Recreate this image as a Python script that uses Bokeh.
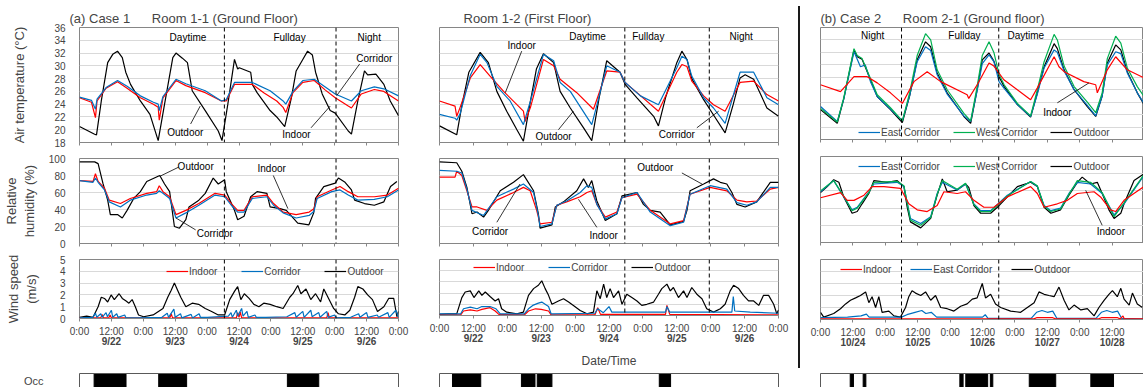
from bokeh.plotting import figure
from bokeh.layouts import row, column
from bokeh.models import (Range1d, LinearAxis, FixedTicker, SingleIntervalTicker, Grid,
                          Span, Legend, LegendItem, Spacer)
from bokeh.core.properties import value
from bokeh.embed import file_html
from bokeh.resources import INLINE

FONT = "Liberation Sans"
RED, BLUE, GREEN, BLACK = "#ff0000", "#0070c0", "#00b050", "#000000"
FRAME = "#868686"

# ---------------- data (time in hours from start, value) ----------------
TIME_TICKS = list(range(0, 121, 12))
TIME_LABELS = ["0:00" if h % 24 == 0 else "12:00" for h in TIME_TICKS]
DATE_TICKS = [12, 36, 60, 84, 108]
DATES_1 = ["9/22", "9/23", "9/24", "9/25", "9/26"]
DATES_2 = ["10/24", "10/25", "10/26", "10/27", "10/28"]

# Case 1, Room 1-1: air temperature
A_T_OUT = [(0,20.5),(5.7,19.3),(6.4,19.2),(8.2,24.5),(10.6,30.5),(12.5,31.8),(14.3,32.3),(16.1,31.3),(17.4,29),(19.2,27.1),(22.9,24.5),(26.5,22.4),(29.6,18.3),(32,24),(35.1,31.3),(36.3,32),(38.7,31.2),(40.6,30.5),(42.4,26.1),(47.3,23),(52.2,19.8),(53.6,18.3),(55.8,24),(58.3,31),(59.5,29.5),(60.1,29.7),(63.2,29.2),(64.4,29),(65,27.1),(66.8,25.8),(71.7,23),(74.2,22),(77.2,20.5),(79.7,25),(81.5,29.2),(84,31),(85.8,32.3),(87.6,31.7),(88.8,29),(91.3,25.6),(94.3,23),(96.2,22.6),(101.1,19.8),(102.3,19.3),(104.7,24.5),(107.2,29.2),(108.4,28.6),(111.5,28.7),(114.5,27.1),(116.9,24.5),(120,22.2)]
A_T_IN = [(0,25.0),(4.5,24.3),(6.0,21.9),(6.6,24.5),(10,26.5),(14.3,27.5),(17.9,26.5),(22.9,25),(27.8,24),(29.6,23.5),(30.0,21.5),(31.4,25),(36.3,27.7),(40,26.9),(47.3,25.8),(53.4,24.5),(55.2,24.5),(58.3,27.1),(61.9,27.1),(65,27.1),(69.3,25.8),(74.2,24.5),(76.6,23.5),(77.6,22.7),(80.3,25.8),(84,27.4),(88.3,27.7),(92.5,26.2),(96.2,25),(101.1,23.7),(102.3,23.4),(106,25.6),(110.9,26.3),(114.5,26),(120,24.5)]
A_T_COR = [(0,25.1),(4.5,24.6),(6.0,23.2),(6.6,24.8),(10,26.6),(14.3,27.7),(17.9,26.8),(22.9,25.3),(27.8,24.3),(29.6,24),(30.0,23),(31.4,25.2),(36.3,27.9),(40,27.2),(47.3,26.1),(53.4,24.5),(55.2,24.7),(58.3,27.4),(65,27.4),(71.7,26.1),(76.6,24.5),(77.6,24),(80.3,26),(84,27.7),(88.3,27.9),(96.2,25.6),(102.3,24.5),(106,26.1),(110.9,26.7),(114.5,26.4),(120,25.3)]
# Case 1, Room 1-1: relative humidity
A_H_OUT = [(0,96),(5.7,96),(7,94),(8.8,71),(10.6,51),(11.6,34),(14.3,34),(16.1,30),(17.9,39),(20.4,53),(22.9,61),(25.3,73),(30.2,80),(32,70),(33.9,61),(35.7,20),(37.6,18),(40,28),(41.2,43),(44.9,51),(47.3,59),(50.3,77),(52.2,70),(54.6,75),(55.2,61),(58.3,39),(59.5,28),(61.9,32),(64.4,55),(66.8,61),(70.5,59),(71.7,43),(75.4,41),(77.8,39),(82.1,24),(86.3,22),(88.1,36),(88.8,53),(91.9,67),(96.2,71),(97.4,77),(99.9,72),(102.3,63),(103.5,51),(107.2,47),(110.9,45),(114.5,49),(117,67),(119.4,73)]
A_H_IN = [(0,74),(5.1,73),(6.0,82),(7,73),(9.4,65),(11.2,51),(15.4,47),(19.1,53),(25.3,59),(29,61),(30,68),(31.4,61),(33.9,55),(36.3,34),(40,39),(44.9,47),(51,59),(54.6,57),(57.1,47),(59.5,39),(61.9,39),(65,55),(70.5,57),(73,47),(76.6,37),(81.5,34),(86.4,37),(88.2,41),(89.4,55),(94.9,63),(98,67),(101.1,61),(104.7,55),(110.9,55),(115.8,57),(120,65)]
A_H_COR = [(0,74),(5.1,72),(6.0,77),(7,72),(9.4,63),(11.2,49),(15.4,43),(19.1,51),(25.3,57),(29,59),(30,62),(31.4,59),(33.9,53),(36.3,30),(40,36),(44.9,45),(51,57),(54.6,55),(57.1,45),(59.5,37),(61.9,37),(65,53),(70.5,55),(73,45),(76.6,36),(81.5,30),(86.4,33),(88.2,38),(89.4,53),(94.9,61),(98,63),(101.1,57),(104.7,51),(110.9,52),(115.8,55),(120,63)]
# Case 1, Room 1-1: wind speed
A_W_OUT = [(0,0.1),(2.7,0.2),(5.1,0.1),(7,1.0),(8.2,1.8),(9.4,1.7),(10.6,1.4),(11.9,2.0),(13.1,1.6),(14.9,2.1),(16.1,1.7),(17.4,1.5),(18.6,1.3),(19.8,1.6),(21,1.0),(22.2,0.3),(24.1,0.15),(27.7,0.3),(31.4,0.85),(33.2,1.8),(34.5,2.4),(35.7,3.0),(36.9,2.4),(38.1,1.8),(40,1.0),(42.4,1.3),(44.8,1.2),(47.3,0.85),(49.7,0.6),(52.2,0.3),(54.6,0.3),(56.5,1.6),(58.3,2.3),(59.5,2.7),(60.7,1.6),(62,2.1),(63.8,1.7),(65.6,1.2),(67.5,1.0),(69.3,1.3),(71.7,1.2),(74.2,1.0),(76.6,0.85),(79.1,1.8),(80.3,2.1),(82.1,2.8),(83.3,2.1),(85.2,2.5),(87,1.6),(88.8,2.1),(90.7,1.4),(91.9,2.5),(93.7,1.7),(95.6,0.85),(97.4,0.4),(99.8,0.3),(101.7,0.7),(103.5,1.8),(104.7,2.7),(106.6,2.5),(108.4,2.0),(110.2,1.6),(112.1,0.6),(114.5,1.0),(116.3,1.7),(118.2,1.7),(119.4,0.15),(120,0.6)]
A_W_IN = [(0,0.05),(8,0.05),(8.5,0.35),(9,0.05),(11,0.05),(11.5,0.3),(12,0.05),(34,0.05),(34.5,0.4),(35,0.05),(59,0.05),(59.5,0.5),(60,0.1),(60.5,0.55),(61,0.05),(93,0.05),(93.5,0.5),(94,0.05),(120,0.05)]
A_W_COR = [(0,0.05),(5,0.1),(6,0.45),(6.5,0.1),(8,0.4),(8.5,0.1),(10,0.5),(10.5,0.15),(12,0.7),(12.5,0.1),(14,0.4),(14.5,0.1),(17,0.3),(17.5,0.05),(22,0.05),(31,0.1),(33,0.45),(33.5,0.1),(35.5,0.8),(36,0.1),(38,0.4),(38.5,0.05),(42,0.35),(42.5,0.05),(45,0.4),(45.5,0.1),(48,0.1),(56,0.2),(57,0.5),(57.5,0.1),(59,0.7),(59.5,0.2),(61,0.85),(61.5,0.2),(63,0.6),(63.5,0.1),(66,0.3),(66.5,0.1),(70,0.1),(78,0.15),(81,0.5),(81.5,0.1),(84,0.6),(84.5,0.1),(87,0.7),(87.5,0.15),(90,0.5),(90.5,0.1),(93,0.6),(93.5,0.1),(96,0.3),(96.5,0.05),(102,0.1),(105,0.4),(105.5,0.1),(108,0.5),(108.5,0.1),(112,0.3),(112.5,0.1),(116,0.5),(116.5,0.1),(119,0.7),(120,0.1)]
A_OCC_START = [5.5, 29.8, 78.2]
A_OCC_END = [17.5, 40.3, 90.0]

# Case 1, Room 1-2
B_T_OUT = [(0,20.6),(6.1,19.2),(8,24),(10.4,29),(14.4,32.1),(17.3,30.5),(20.3,26),(23.8,22.9),(27.4,20),(29.7,18.2),(32,24),(34.3,29.5),(36.8,31.9),(40.4,30.5),(42.7,26),(46.3,23.4),(51,20.3),(53.9,18.3),(56.5,25),(59.2,30.8),(63.9,29),(65.7,27.1),(69.9,25),(75.8,22.1),(77.5,20.6),(80,25),(84,30.5),(85.8,32.3),(87.6,31),(89.3,28),(93.5,24.7),(97,22.3),(101.1,19.5),(104,24),(106.4,28.1),(108.2,28.6),(111.2,27.9),(115.9,23.4),(120,22.1)]
B_T_IN = [(0,24.5),(5.5,23.7),(6.1,22.1),(7.3,23.5),(10.9,28.1),(14.4,30.2),(17.9,28.4),(22.7,26),(29.7,22.9),(30.3,21.3),(32.2,23.5),(36.8,31),(40.4,30),(42.7,27.9),(48.6,25.8),(54.5,23.2),(59.2,29.2),(63.9,29),(65.7,27.4),(69.9,25.8),(77.5,22.9),(84,29),(85.8,30.2),(87.6,29.9),(89.3,27.6),(93.5,25.3),(97,23.9),(101.1,22.9),(106.4,27.4),(111.2,27.6),(115.9,25.5),(120,24.5)]
B_T_COR = [(0,22.4),(5.5,21.8),(6.1,21.5),(7.3,22.5),(10.9,28.5),(14.4,31.8),(16.8,30.5),(20.3,26.8),(25,24.5),(29.7,20.8),(32.2,24.5),(36.8,31.8),(40.4,30.8),(42.7,27.4),(46.3,26),(53.9,20.8),(55.5,23.5),(59.2,30),(63.9,29),(65.7,27.4),(71.1,25.3),(77.5,23.9),(84,29.7),(85.8,31.5),(87.6,31),(89.3,28.4),(93.5,25),(97,23.4),(101.1,21),(106.4,29),(111.2,29),(115.9,25),(120,23.9)]
B_H_OUT = [(0,96),(6.1,95),(7.9,85),(9.7,66),(11.5,35),(13.3,37),(15.6,31),(17.3,39),(21.5,62),(26.2,72),(29.7,81),(33.3,62),(35,35),(35.6,18),(39.8,22),(41,43),(43.9,49),(48.6,62),(51,76),(52.7,66),(53.9,74),(55.7,50),(58.7,27),(62.8,35),(64.6,56),(69.9,60),(72.2,46),(74.6,39),(78.1,37),(81.7,22),(86.4,26),(87.6,39),(88.7,62),(93.5,70),(97,76),(99.4,72),(101.7,70),(103.5,60),(105.3,46),(108.2,43),(112.3,49),(117.1,72),(120,72)]
B_H_IN = [(0,78),(5.5,78),(6.1,85),(7.9,80),(9.7,62),(11.5,43),(13.3,43),(16.8,39),(20.3,51),(26.2,60),(29.7,66),(32.1,62),(34.4,39),(35.6,23),(39.8,25),(41.5,45),(45,49),(49.8,55),(52.2,60),(53.9,62),(55.7,46),(58.7,31),(62.8,37),(64.6,54),(69.9,58),(74.6,39),(81.7,23),(86.4,27),(88.7,58),(95.8,66),(101.7,62),(105.3,51),(108.8,49),(112.3,50),(117.1,64),(120,66)]
B_H_COR = [(0,86),(6.1,85),(7.9,83),(9.7,64),(11.5,39),(15.6,33),(20.3,55),(26.2,64),(29.7,70),(33.3,60),(35,33),(35.6,20),(39.8,23),(41.5,45),(45,50),(49.8,60),(52.2,68),(53.9,66),(55.7,46),(58.7,29),(62.8,35),(64.6,54),(69.9,60),(74.6,37),(81.7,21),(86.4,25),(88.7,58),(95.8,68),(101.7,64),(105.3,48),(108.8,45),(112.3,49),(117.1,66),(120,66)]
B_W_OUT = [(0,0.1),(3,0.15),(6.1,0.15),(7.9,1.6),(9.1,2.1),(10.9,2.2),(12.2,1.6),(13.9,2.2),(15,1.8),(16.2,2.1),(17.9,1.7),(19.7,1.3),(20.9,1.5),(22,0.6),(23.8,0.3),(27.4,0.15),(29.7,0.3),(31.5,1.8),(33.3,2.4),(35,2.7),(36.2,3.1),(37.4,2.4),(38.6,1.8),(39.8,1.0),(42.1,1.3),(43.9,1.5),(45.7,1.2),(47.4,0.9),(49.8,0.45),(52.2,0.15),(54.5,0.3),(55.7,2.2),(56.9,1.5),(58.1,2.8),(59.2,1.6),(60.4,2.4),(61.6,1.6),(63.4,2.2),(64.6,1.0),(66.3,1.9),(68.1,1.6),(69.9,1.3),(71.6,0.9),(73.4,1.0),(75.8,1.2),(77.5,1.9),(78.7,2.4),(80.5,2.8),(81.7,2.2),(82.8,2.5),(84.6,1.6),(86.4,2.2),(87.6,1.6),(89.3,2.5),(91.1,1.9),(92.9,1.5),(94.6,0.6),(97,0.3),(99.4,0.6),(101.1,1.0),(102.9,2.2),(104.1,2.7),(105.9,2.4),(107.6,1.8),(109.4,1.3),(111.2,1.3),(113,0.9),(114.7,1.8),(116.5,1.8),(118.3,1.0),(119.4,0.15),(120,0.5)]
B_W_IN = [(0,0.05),(7.5,0.05),(8.5,0.4),(10.9,0.5),(13.3,0.4),(15,0.55),(17.9,0.7),(19.7,0.4),(21,0.1),(30,0.05),(31.5,0.4),(34,0.6),(36,0.55),(38.6,0.4),(39.5,0.05),(55,0.05),(56,0.7),(57,0.1),(80,0.1),(80.5,0.9),(81.5,0.1),(120,0.05)]
B_W_COR = [(0,0.15),(7.5,0.15),(8.5,0.6),(10.9,0.75),(13.3,0.6),(15,0.8),(17.9,0.8),(20,0.6),(21.5,0.15),(30,0.15),(31.5,0.6),(33,0.9),(35,1.1),(36.2,1.2),(38.6,0.8),(39.5,0.15),(55,0.2),(56,0.6),(58,0.25),(60,0.8),(61,0.3),(70,0.3),(80,0.3),(80.5,0.8),(81.5,0.3),(95,0.3),(103.5,0.3),(104,1.7),(104.5,0.4),(110,0.3),(120,0.2)]
B_OCC_START = [4.6, 29.0, 34.6, 77.8]
B_OCC_END = [14.6, 33.8, 39.8, 81.8]

# Case 2, Room 2-1
C_T_OUT = [(0,22.8),(6.2,20.6),(8.6,24.5),(12.4,32.4),(13.6,31.3),(15.4,30.9),(18.5,27.6),(21,24.9),(25.9,22.8),(30.3,20.7),(33,25),(35.8,30.8),(38.9,33.7),(40.8,32.9),(43.2,28.7),(46.9,25.5),(53.1,21.7),(55.6,20.6),(58,26),(59.9,30.8),(62.4,31.9),(64.2,30.6),(66.1,28.1),(68,26.5),(72.9,23.6),(77.8,21.6),(80.3,25.5),(82.8,29.7),(86.5,33.4),(87.7,32.6),(90.2,29.2),(93.9,26),(98.8,23.3),(101.9,21.7),(104.3,25),(106.2,30.3),(109.3,33.2),(111.2,32.4),(113.6,28.9),(117.3,25.5),(119.8,23.6)]
C_T_WEST = [(0,23.0),(6.2,20.8),(8.6,24.7),(12.4,32.6),(13.6,31.5),(15.4,31.0),(18.5,27.8),(21,25.2),(25.9,23.1),(30.3,21.0),(33,25.5),(35.8,31.5),(38.9,35.0),(40.8,34),(43.2,29.2),(46.9,26),(53.1,22.2),(55.6,21.0),(58,26.5),(59.9,31.5),(62.4,33.7),(64.2,32.0),(66.1,28.5),(68,26.8),(72.9,23.8),(77.8,21.8),(80.3,26),(82.8,30.5),(86.5,34.9),(87.7,34),(90.2,29.8),(93.9,26.5),(98.8,24),(101.9,22.3),(104.3,25.5),(106.2,31),(109.3,34.6),(111.2,33.5),(113.6,29.5),(117.3,26.5),(119.8,24.9)]
C_T_EAST = [(0,23.3),(6.2,20.9),(8.6,24.5),(12.4,32.1),(14.8,29.7),(16.6,30),(18.5,27.3),(21,24.9),(25.9,22.9),(30.3,21.0),(33,25),(35.8,30.5),(38.9,32.9),(40.8,32.3),(43.2,28.4),(46.9,25.3),(53.1,21.8),(55.6,20.9),(58,25.8),(59.9,30.2),(62.4,31.6),(64.2,30.5),(66.1,27.3),(68,26.2),(72.9,23.6),(77.8,21.7),(80.3,25.3),(82.8,29.5),(86.5,32.4),(87.7,32),(90.2,29),(93.9,26),(98.8,23.5),(101.9,21.8),(104.3,25),(106.2,30),(109.3,32.1),(111.2,31.8),(113.6,28.7),(117.3,25.5),(119.8,23.8)]
C_T_IN = [(0,26.8),(7.4,25.7),(12.4,28.1),(17.3,28.1),(21,27.1),(25.9,25.5),(30.3,23.8),(34.6,27.3),(39.5,28.9),(44.5,27.3),(54.3,25.2),(54.9,24.6),(58.3,27),(62.4,30.3),(64.2,29.8),(67.9,27.6),(77.8,24.4),(80.3,26.3),(86.5,31.3),(88.3,29.7),(90.2,28.9),(97.5,27.3),(101.9,26.8),(102.5,25.5),(106.2,29.2),(109.3,31.3),(113.6,29.2),(119.8,27.9)]
C_H_OUT = [(0,58),(2.5,65),(4.9,73),(6.8,70),(8.6,53),(11.7,34),(13.6,36),(15.4,45),(17.9,57),(19.8,72),(24.7,70),(28.4,72),(30.9,65),(32.1,41),(33.3,24),(37.1,17),(40.8,28),(43.2,55),(45.1,74),(46.9,59),(50.6,61),(53.7,68),(54.9,64),(56.8,43),(59.3,34),(63,34),(65.5,41),(69.2,53),(72.9,65),(77.8,70),(80.3,65),(82.8,41),(85.3,34),(88.9,38),(92,55),(95.1,70),(96.9,76),(100,68),(102.5,70),(104.3,57),(106.8,38),(108.7,28),(111.2,34),(112.4,45),(116.1,72),(119.8,80)]
C_H_EAST = [(0,59),(4.9,72),(8.6,53),(11.7,38),(13.6,41),(17.9,59),(19.8,68),(28.4,70),(30.9,65),(33.3,28),(37.1,22),(40.8,30),(43.2,57),(45.1,70),(50.6,61),(53.7,68),(56.8,45),(59.3,37),(63,37),(69.2,55),(77.8,71),(80.3,65),(82.8,43),(85.3,37),(88.9,40),(92,57),(95.1,70),(100,68),(104.3,57),(108.7,32),(112.4,45),(119.8,78)]
C_H_WEST = [(0,60),(4.9,72),(8.6,54),(11.7,37),(13.6,40),(17.9,58),(19.8,70),(28.4,71),(30.9,66),(33.3,26),(37.1,20),(40.8,29),(43.2,56),(45.1,72),(50.6,62),(53.7,69),(56.8,44),(59.3,36),(63,36),(69.2,54),(77.8,71),(80.3,66),(82.8,42),(85.3,36),(88.9,39),(92,56),(95.1,72),(100,70),(104.3,58),(108.7,30),(112.4,46),(119.8,79)]
C_H_IN = [(0,52),(7.4,58),(9.9,49),(12.4,49),(16.1,55),(19.1,65),(23.5,65),(29.6,63),(32.7,45),(35.8,38),(39.5,36),(43.2,43),(45.7,59),(50.6,57),(53.7,59),(56.8,49),(60.5,41),(64.2,41),(69.2,53),(77.8,65),(80.3,57),(82.8,41),(87.7,45),(91.4,49),(95.1,57),(101.3,59),(103.7,53),(107.4,38),(109.3,36),(112.4,49),(119.8,65)]
C_W_OUT = [(0,0.6),(1.2,0.2),(4.9,0.5),(7.4,0.9),(9.3,1.3),(11.1,1.6),(13,1.8),(14.8,2.0),(16.7,2.3),(17.9,1.4),(19.1,1.9),(20.4,1.0),(21.6,1.9),(22.8,0.6),(25.3,0.7),(27.2,0.3),(29.6,0.2),(31.5,1.0),(32.7,1.9),(33.9,2.4),(35.2,2.2),(37.1,2.0),(38.9,2.3),(40.8,1.6),(42.6,2.0),(44.5,1.0),(46.9,0.9),(49.4,0.7),(51.9,1.1),(54.3,1.3),(56.2,1.7),(58,1.8),(59.9,3.0),(61.1,1.8),(63,2.1),(64.8,1.3),(66.7,1.0),(70.4,0.7),(74.1,0.6),(76.6,1.0),(79.1,1.4),(80.9,2.3),(82.8,2.1),(84.6,2.0),(86.5,1.9),(88.3,2.7),(90.2,1.6),(92,0.8),(93.9,1.2),(96.4,0.8),(98.8,0.9),(101.3,0.3),(103.1,1.0),(105,1.6),(106.8,2.1),(108.1,2.4),(109.9,1.9),(111.2,2.6),(112.4,1.7),(114.3,1.2),(115.5,2.2),(117.3,1.3),(119.2,1.0)]
C_W_EAST = [(0,0.15),(10,0.2),(15,0.3),(17,0.45),(18,0.2),(30,0.2),(32,0.4),(35,0.6),(37.5,0.75),(39,0.5),(41,0.6),(43,0.2),(60,0.2),(61,0.4),(62,0.1),(78,0.1),(80,0.6),(82,0.75),(84,0.6),(86,0.7),(87.5,0.1),(102,0.1),(104,0.6),(106,0.75),(108,0.6),(110,0.7),(111.5,0.1),(119.6,0.05)]
C_W_IN = [(0,0.05),(79,0.05),(80,0.15),(86,0.15),(87,0.05),(103,0.05),(104,0.15),(110,0.15),(111,0.05),(112,0.3),(112.5,0.05),(119.6,0.05)]
C_OCC_START = [11.0, 15.8, 51.6, 53.8, 62.9, 77.3, 100.1]
C_OCC_END = [12.2, 16.8, 52.8, 61.9, 63.8, 87.1, 108.5]


# ---------------- helpers ----------------
def mk(w, h, bl, br, bt, bb, xend, yr, yint, title=None, toff=0):
    p = figure(width=w, height=h, x_range=Range1d(0, xend), y_range=Range1d(yr[0], yr[1]),
               x_axis_type=None, y_axis_type=None, toolbar_location=None, output_backend="svg",
               min_border_left=bl, min_border_right=br, min_border_top=bt, min_border_bottom=bb,
               title=title)
    p.outline_line_color = FRAME
    p.outline_line_width = 1
    p.background_fill_color = "white"
    p.border_fill_color = "white"
    if title:
        p.title.text_font = FONT
        p.title.text_font_size = "13px"
        p.title.text_font_style = "normal"
        p.title.align = "left"
        p.title.offset = toff
        p.title.standoff = 4
    p.add_layout(Grid(dimension=1, ticker=SingleIntervalTicker(interval=yint),
                      grid_line_color="#d9d9d9", grid_line_width=1))
    return p


def time_axis(p, labels=False):
    ax = LinearAxis(ticker=FixedTicker(ticks=TIME_TICKS), axis_line_color=FRAME,
                    major_tick_line_color=FRAME, major_tick_in=0, major_tick_out=3,
                    minor_tick_line_color=None)
    if labels:
        ax.major_label_overrides = {t: l for t, l in zip(TIME_TICKS, TIME_LABELS)}
        ax.major_label_text_font = FONT
        ax.major_label_text_font_size = "10px"
        ax.major_label_standoff = 4
    else:
        ax.major_label_text_font_size = "0px"
        ax.major_label_text_color = None
        ax.major_label_standoff = 0
    p.add_layout(ax, "below")


def date_axis(p, dates, label=None):
    ax = LinearAxis(ticker=FixedTicker(ticks=DATE_TICKS),
                    major_label_overrides={t: d for t, d in zip(DATE_TICKS, dates)},
                    axis_line_color=None, major_tick_line_color=None, minor_tick_line_color=None,
                    major_tick_in=0, major_tick_out=0, major_label_standoff=-4,
                    major_label_text_font=FONT, major_label_text_font_size="10px",
                    major_label_text_font_style="bold")
    if label:
        ax.axis_label = label
        ax.axis_label_text_font = FONT
        ax.axis_label_text_font_size = "12px"
        ax.axis_label_text_font_style = "normal"
        ax.axis_label_standoff = 7
    p.add_layout(ax, "below")


def y_axis(p, interval, label, standoff):
    ax = LinearAxis(ticker=SingleIntervalTicker(interval=interval), axis_line_color=None,
                    major_tick_line_color=None, minor_tick_line_color=None,
                    major_tick_in=0, major_tick_out=0, major_label_standoff=10,
                    major_label_text_font=FONT, major_label_text_font_size="10px",
                    axis_label=label, axis_label_text_font=FONT, axis_label_text_font_size="13px",
                    axis_label_text_font_style="normal", axis_label_standoff=standoff)
    p.add_layout(ax, "left")


def draw(p, data, color, width=1.2):
    t = [d[0] for d in data]
    v = [d[1] for d in data]
    return p.line(t, v, line_color=color, line_width=width)


def dashes(p, locs):
    for h in locs:
        p.add_layout(Span(location=h, dimension="height", line_color="black",
                          line_dash="4 3", line_width=1))


def texts(p, xs, ys, labels, size="10px"):
    p.text(x=xs, y=ys, text=labels, text_font=value(FONT), text_font_size=value(size),
           text_align="center", text_baseline="middle", text_color="black")


def leaders(p, segs):
    p.segment(x0=[s[0] for s in segs], y0=[s[1] for s in segs],
              x1=[s[2] for s in segs], y1=[s[3] for s in segs],
              line_color="black", line_width=0.8)


def legend(p, items, x, y, spacing):
    lg = Legend(items=[LegendItem(label=value(l), renderers=[r]) for l, r in items],
                orientation="horizontal", location=(x, y), background_fill_alpha=0,
                border_line_color=None, glyph_width=22, glyph_height=12, label_height=12,
                label_standoff=1, spacing=spacing, padding=0, margin=0,
                label_text_font=FONT, label_text_font_size="10px")
    p.add_layout(lg)


def occ_fig(w, bl, br, xend, starts, ends, label=None):
    p = figure(width=w, height=17, x_range=Range1d(0, xend), y_range=Range1d(0, 1),
               x_axis_type=None, y_axis_type=None, toolbar_location=None, output_backend="svg",
               min_border_left=bl, min_border_right=br, min_border_top=3, min_border_bottom=0)
    p.outline_line_color = None
    p.background_fill_color = "white"
    p.border_fill_color = "white"
    p.quad(left=starts, right=ends, bottom=0, top=1, fill_color="black", line_color="black")
    for side in ("left", "right", "above"):
        ax = LinearAxis(ticker=FixedTicker(ticks=[]), axis_line_color="#595959",
                        major_tick_in=0, major_tick_out=0, major_label_standoff=0,
                        major_label_text_font_size="0px", major_label_text_color=None,
                        minor_tick_line_color=None)
        if side == "left" and label:
            ax.axis_label = label
            ax.axis_label_orientation = "horizontal"
            ax.axis_label_text_font = FONT
            ax.axis_label_text_font_size = "11px"
            ax.axis_label_text_font_style = "normal"
            ax.axis_label_standoff = 36
        p.add_layout(ax, side)
    return p


# ---------------- Case 1, Room 1-1 ----------------
pa_t = mk(420, 150, 71, 22, 27, 8, 120, (18, 36), 2,
          title="(a) Case 1" + "\u00a0" * 6 + "Room 1-1 (Ground Floor)", toff=-10)
y_axis(pa_t, 2, "Air temperature (°C)", 24)
time_axis(pa_t)
draw(pa_t, A_T_OUT, BLACK)
draw(pa_t, A_T_IN, RED)
draw(pa_t, A_T_COR, BLUE)
dashes(pa_t, [54.5, 96.5])
texts(pa_t, [40.8, 79, 109], [34.5, 34.5, 34.5], ["Daytime", "Fullday", "Night"])
texts(pa_t, [110.9, 81.6, 39.8], [31.2, 19.3, 19.6], ["Corridor", "Indoor", "Outdoor"])
leaders(pa_t, [(105.4, 30.3, 96.7, 25.3), (87.1, 20.3, 94.3, 23.7), (41.8, 20.9, 45.4, 23.7)])

pa_h = mk(420, 100, 71, 22, 8, 7, 120, (0, 100), 20)
y_axis(pa_h, 20, "Relative\nhumidity (%)", 9)
time_axis(pa_h)
draw(pa_h, A_H_OUT, BLACK)
draw(pa_h, A_H_IN, RED)
draw(pa_h, A_H_COR, BLUE)
dashes(pa_h, [54.5, 96.5])
texts(pa_h, [43.7, 50.9, 72.3], [91, 12, 88], ["Outdoor", "Corridor", "Indoor"])
leaders(pa_h, [(37.4, 90, 30.2, 79), (43.7, 16, 36.3, 30), (72.9, 80, 78.4, 41)])

pa_w = mk(420, 120, 71, 22, 9, 52, 120, (0, 5), 1)
y_axis(pa_w, 1, "Wind speed\n(m/s)", 18)
time_axis(pa_w, labels=True)
date_axis(pa_w, DATES_1)
ro = draw(pa_w, A_W_OUT, BLACK)
ri = draw(pa_w, A_W_IN, RED)
rc = draw(pa_w, A_W_COR, BLUE)
dashes(pa_w, [54.5, 96.5])
legend(pa_w, [("Indoor", ri), ("Corridor", rc), ("Outdoor", ro)], 87, 41, 24)

pa_o = occ_fig(420, 71, 22, 120, A_OCC_START, A_OCC_END, label="Occ")

# ---------------- Case 1, Room 1-2 ----------------
pb_t = mk(378, 150, 19, 20, 27, 8, 120, (18, 36), 2, title="Room 1-2 (First Floor)", toff=24)
time_axis(pb_t)
draw(pb_t, B_T_OUT, BLACK)
draw(pb_t, B_T_IN, RED)
draw(pb_t, B_T_COR, BLUE)
dashes(pb_t, [65.6, 95.5])
texts(pb_t, [52.4, 73.9, 106.8], [34.6, 34.6, 34.6], ["Daytime", "Fullday", "Night"])
texts(pb_t, [29.1, 40.4, 84], [33.2, 19.0, 19.2], ["Indoor", "Outdoor", "Corridor"])
leaders(pb_t, [(29.1, 32.3, 23.3, 25.8), (42.1, 20, 47.4, 22.9), (91.1, 20.3, 98.8, 22.9)])

pb_h = mk(378, 100, 19, 20, 8, 7, 120, (0, 100), 20)
time_axis(pb_h)
draw(pb_h, B_H_OUT, BLACK)
draw(pb_h, B_H_IN, RED)
draw(pb_h, B_H_COR, BLUE)
dashes(pb_h, [65.6, 95.5])
texts(pb_h, [17.9, 58.1, 76.4], [13.6, 9.7, 90], ["Corridor", "Indoor", "Outdoor"])
leaders(pb_h, [(20.3, 25, 28.5, 70), (55.7, 19, 49.2, 52), (85.8, 83, 92.9, 70)])

pb_w = mk(378, 120, 19, 20, 9, 52, 120, (0, 5), 1)
time_axis(pb_w, labels=True)
date_axis(pb_w, DATES_1, label="Date/Time")
ro = draw(pb_w, B_W_OUT, BLACK)
ri = draw(pb_w, B_W_IN, RED)
rc = draw(pb_w, B_W_COR, BLUE)
dashes(pb_w, [65.6, 95.5])
legend(pb_w, [("Indoor", ri), ("Corridor", rc), ("Outdoor", ro)], 34, 42, 24)

pb_o = occ_fig(378, 19, 20, 120, B_OCC_START, B_OCC_END)

# ---------------- separator ----------------
sep = column(Spacer(width=2, height=6),
             Spacer(width=2, height=362, styles={"background-color": "#1a1a1a"}))

# ---------------- Case 2, Room 2-1 ----------------
XC = 119.6
pc_t = mk(343, 148, 20, 0, 27, 9, XC, (18, 36), 2,
          title="(b) Case 2" + "\u00a0" * 6 + "Room 2-1 (Ground floor)", toff=0)
time_axis(pc_t)
ro = draw(pc_t, C_T_OUT, BLACK)
re = draw(pc_t, C_T_EAST, BLUE)
rw = draw(pc_t, C_T_WEST, GREEN)
draw(pc_t, C_T_IN, RED)
dashes(pc_t, [30, 66])
texts(pc_t, [19.3, 53.3, 76], [34.7, 34.7, 34.7], ["Night", "Fullday", "Daytime"])
texts(pc_t, [87.7], [22.4], ["Indoor"])
leaders(pc_t, [(87.7, 23.9, 99.4, 27.1)])
legend(pc_t, [("East Corridor", re), ("West Corridor", rw), ("Outdoor", ro)], 38, 1, 13)

pc_h = mk(343, 102, 20, 0, 8, 8, XC, (0, 100), 20)
time_axis(pc_h)
ro = draw(pc_h, C_H_OUT, BLACK)
re = draw(pc_h, C_H_EAST, BLUE)
rw = draw(pc_h, C_H_WEST, GREEN)
draw(pc_h, C_H_IN, RED)
dashes(pc_h, [30, 66])
texts(pc_h, [107.5], [12.4], ["Indoor"])
leaders(pc_h, [(104.3, 20, 98.2, 60.6)])
legend(pc_h, [("East Corridor", re), ("West Corridor", rw), ("Outdoor", ro)], 38, 70, 13)

pc_w = mk(343, 120, 20, 0, 9, 51, XC, (0, 5), 1)
time_axis(pc_w, labels=True)
date_axis(pc_w, DATES_2)
ro = draw(pc_w, C_W_OUT, BLACK)
re = draw(pc_w, C_W_EAST, BLUE)
ri = draw(pc_w, C_W_IN, RED)
dashes(pc_w, [30, 66])
legend(pc_w, [("Indoor", ri), ("East Corridor", re), ("Outdoor", ro)], 20, 44, 19)

pc_o = occ_fig(343, 20, 0, XC, C_OCC_START, C_OCC_END)

layout = row(column(pa_t, pa_h, pa_w, pa_o, spacing=0),
             column(pb_t, pb_h, pb_w, pb_o, spacing=0),
             sep,
             column(pc_t, pc_h, pc_w, pc_o, spacing=0),
             spacing=0)

open("out.html", "w").write(file_html(layout, INLINE))
